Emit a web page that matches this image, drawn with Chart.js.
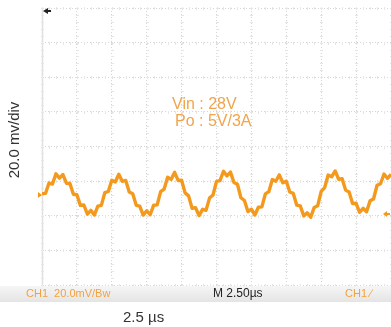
<!DOCTYPE html>
<html>
<head>
<meta charset="utf-8">
<script src="https://cdn.jsdelivr.net/npm/chart.js@4/dist/chart.umd.min.js"></script>
<style>
  html, body { margin: 0; padding: 0; background: #fff; }
  #wrap { position: relative; width: 391px; height: 327px; }
</style>
</head>
<body>
<div id="wrap"><canvas id="scope"></canvas></div>
<script>
// time base in microseconds (2.5 us/div, 10 div)
var timeUs = [
  0, 0.25, 0.5, 0.75, 1, 1.25, 1.5, 1.75, 2, 2.25, 2.5, 2.75, 3, 3.25, 3.5, 3.75,
  4, 4.25, 4.5, 4.75, 5, 5.25, 5.5, 5.75, 6, 6.25, 6.5, 6.75, 7, 7.25, 7.5, 7.75,
  8, 8.25, 8.5, 8.75, 9, 9.25, 9.5, 9.75, 10, 10.25, 10.5, 10.75, 11, 11.25, 11.5, 11.75,
  12, 12.25, 12.5, 12.75, 13, 13.25, 13.5, 13.75, 14, 14.25, 14.5, 14.75, 15, 15.25, 15.5, 15.75,
  16, 16.25, 16.5, 16.75, 17, 17.25, 17.5, 17.75, 18, 18.25, 18.5, 18.75, 19, 19.25, 19.5, 19.75,
  20, 20.25, 20.5, 20.75, 21, 21.25, 21.5, 21.75, 22, 22.25, 22.5, 22.75, 23, 23.25, 23.5, 23.75,
  24, 24.25, 24.5, 24.75, 25
];
// CH1 ripple, mV (20 mV/div, screen centre = 0)
var rippleMv = [
  -27.2, -27.1, -21.1, -21.7, -15.8, -18.3, -16.2, -21.2, -21.4, -27.6, -27.9, -34.0, -33.8, -39.1, -36.9, -39.6,
  -34.4, -34.0, -26.7, -26.0, -19.5, -20.5, -16.0, -20.1, -19.6, -26.3, -27.3, -34.0, -34.4, -39.6, -37.2, -39.4,
  -33.9, -33.7, -26.1, -24.6, -17.8, -19.0, -14.9, -19.6, -19.5, -26.8, -28.5, -35.7, -35.4, -39.9, -36.3, -36.9,
  -29.8, -28.0, -20.2, -19.7, -14.3, -17.0, -14.8, -20.8, -21.8, -29.6, -31.2, -37.6, -36.2, -39.6, -35.1, -34.9,
  -27.4, -26.1, -19.1, -20.1, -16.4, -20.9, -20.1, -26.3, -27.1, -33.9, -34.3, -40.1, -38.3, -40.9, -35.2, -34.2,
  -25.9, -23.7, -16.5, -17.5, -14.1, -18.9, -18.6, -25.2, -26.3, -33.0, -32.8, -38.0, -35.7, -37.7, -31.4, -30.3,
  -22.4, -21.5, -15.9, -18.5, -16.0
];
var voltTicks = [-80, -60, -40, -20, 0, 20, 40, 60, 80];
var timeTicks = [0, 2.5, 5, 7.5, 10, 12.5, 15, 17.5, 20, 22.5, 25];
var yTitle = "20.0 mv/div";
var xTitle = "2.5 \u00b5s";
var notes = ["Vin : 28V", "Po : 5V/3A"];
var statusLeft = "CH1  20.0mV/Bw";
var statusMid = "M 2.50\u00b5s";
var statusRight = "CH1 \u2215";

var orange = "#f39a1e";

var scopeDeco = {
  id: "scopeDeco",
  beforeDatasetsDraw: function (chart) {
    var c = chart.ctx, a = chart.chartArea;
    var xs = chart.scales.x, ys = chart.scales.y;
    c.save();
    // left edge of the graticule
    c.strokeStyle = "#e0e0e0";
    c.lineWidth = 1.5;
    c.beginPath(); c.moveTo(a.left + 0.5, a.top); c.lineTo(a.left + 0.5, a.bottom); c.stroke();
    // minor ticks on every graticule line
    c.strokeStyle = "#e6e6e6";
    c.lineWidth = 1;
    voltTicks.forEach(function (v) {
      var py = Math.round(ys.getPixelForValue(v)) + 0.5;
      for (var t = 0; t <= 25; t += 0.5) {
        var px = Math.round(xs.getPixelForValue(t)) + 0.5;
        c.beginPath(); c.moveTo(px, py - 1.5); c.lineTo(px, py + 1.5); c.stroke();
      }
    });
    timeTicks.forEach(function (t) {
      var px = Math.round(xs.getPixelForValue(t)) + 0.5;
      for (var v = -80; v <= 80; v += 4) {
        var py = Math.round(ys.getPixelForValue(v)) + 0.5;
        c.beginPath(); c.moveTo(px - 1.5, py); c.lineTo(px + 1.5, py); c.stroke();
      }
    });
    c.restore();
  },
  afterDraw: function (chart) {
    var c = chart.ctx, a = chart.chartArea;
    var ys = chart.scales.y, xs = chart.scales.x;
    c.save();
    // status bar
    var g = c.createLinearGradient(0, a.bottom, 0, a.bottom + 17);
    g.addColorStop(0, "#f7f7f7");
    g.addColorStop(1, "#e4e4e4");
    c.fillStyle = g;
    c.fillRect(0, a.bottom + 1, chart.width, 16);
    c.textBaseline = "middle";
    c.font = "11px 'Liberation Sans', Arial, sans-serif";
    c.fillStyle = "#f2a240";
    c.textAlign = "left";
    c.fillText(statusLeft, 26, a.bottom + 9);
    c.fillText(statusRight, 345, a.bottom + 9);
    c.fillStyle = "#222";
    c.font = "12px 'Liberation Sans', Arial, sans-serif";
    c.fillText(statusMid, 213, a.bottom + 9);

    // annotation
    c.fillStyle = "#f2a44c";
    c.font = "16px 'Liberation Sans', Arial, sans-serif";
    c.fillText(notes[0], 172, 105);
    c.fillText(notes[1], 175, 122);

    // x caption
    c.fillStyle = "#333";
    c.font = "15px 'Liberation Sans', Arial, sans-serif";
    c.fillText(xTitle, 123, 318);

    // y caption
    c.save();
    c.translate(15, 140);
    c.rotate(-Math.PI / 2);
    c.textAlign = "center";
    c.fillText(yTitle, 0, 0);
    c.restore();

    // trigger / channel markers
    c.fillStyle = "#222";
    c.beginPath();
    c.moveTo(a.left + 1, a.top + 3); c.lineTo(a.left + 6, a.top); c.lineTo(a.left + 6, a.top + 6);
    c.closePath(); c.fill();
    c.fillRect(a.left + 5, a.top + 2, 4, 2);
    c.fillStyle = orange;
    var gy = ys.getPixelForValue(-28);
    c.beginPath();
    c.moveTo(a.left - 4, gy - 3); c.lineTo(a.left, gy); c.lineTo(a.left - 4, gy + 3);
    c.closePath(); c.fill();
    var ty = ys.getPixelForValue(-39);
    c.beginPath();
    c.moveTo(a.right - 8, ty); c.lineTo(a.right - 4, ty - 3); c.lineTo(a.right - 4, ty + 3);
    c.closePath(); c.fill();
    c.fillRect(a.right - 4, ty - 1, 3, 2);
    c.restore();
  }
};

var points = timeUs.map(function (t, i) { return { x: t, y: rippleMv[i] }; });

new Chart(document.getElementById("scope"), {
  type: "line",
  data: {
    datasets: [{
      label: "CH1",
      data: points,
      borderColor: orange,
      borderWidth: 3.4,
      borderJoinStyle: "round",
      pointRadius: 0,
      tension: 0,
      fill: false
    }]
  },
  options: {
    responsive: true,
    maintainAspectRatio: false,
    animation: false,
    layout: { padding: { left: 42, top: 8, right: 0, bottom: 42 } },
    plugins: { legend: { display: false }, tooltip: { enabled: false } },
    scales: {
      x: {
        type: "linear",
        min: 0,
        max: 25,
        afterFit: function (s) { s.height = 0; },
        afterBuildTicks: function (s) { s.ticks = timeTicks.map(function (v) { return { value: v }; }); },
        ticks: { display: false },
        border: { display: false, dash: [1, 2] },
        grid: { color: "#d6d6d6", drawTicks: false }
      },
      y: {
        min: -80,
        max: 80,
        afterFit: function (s) { s.width = 0; },
        afterBuildTicks: function (s) { s.ticks = voltTicks.map(function (v) { return { value: v }; }); },
        ticks: { display: false },
        border: { display: false, dash: [1, 2] },
        grid: { color: "#d6d6d6", drawTicks: false }
      }
    }
  },
  plugins: [scopeDeco]
});
</script>
</body>
</html>
